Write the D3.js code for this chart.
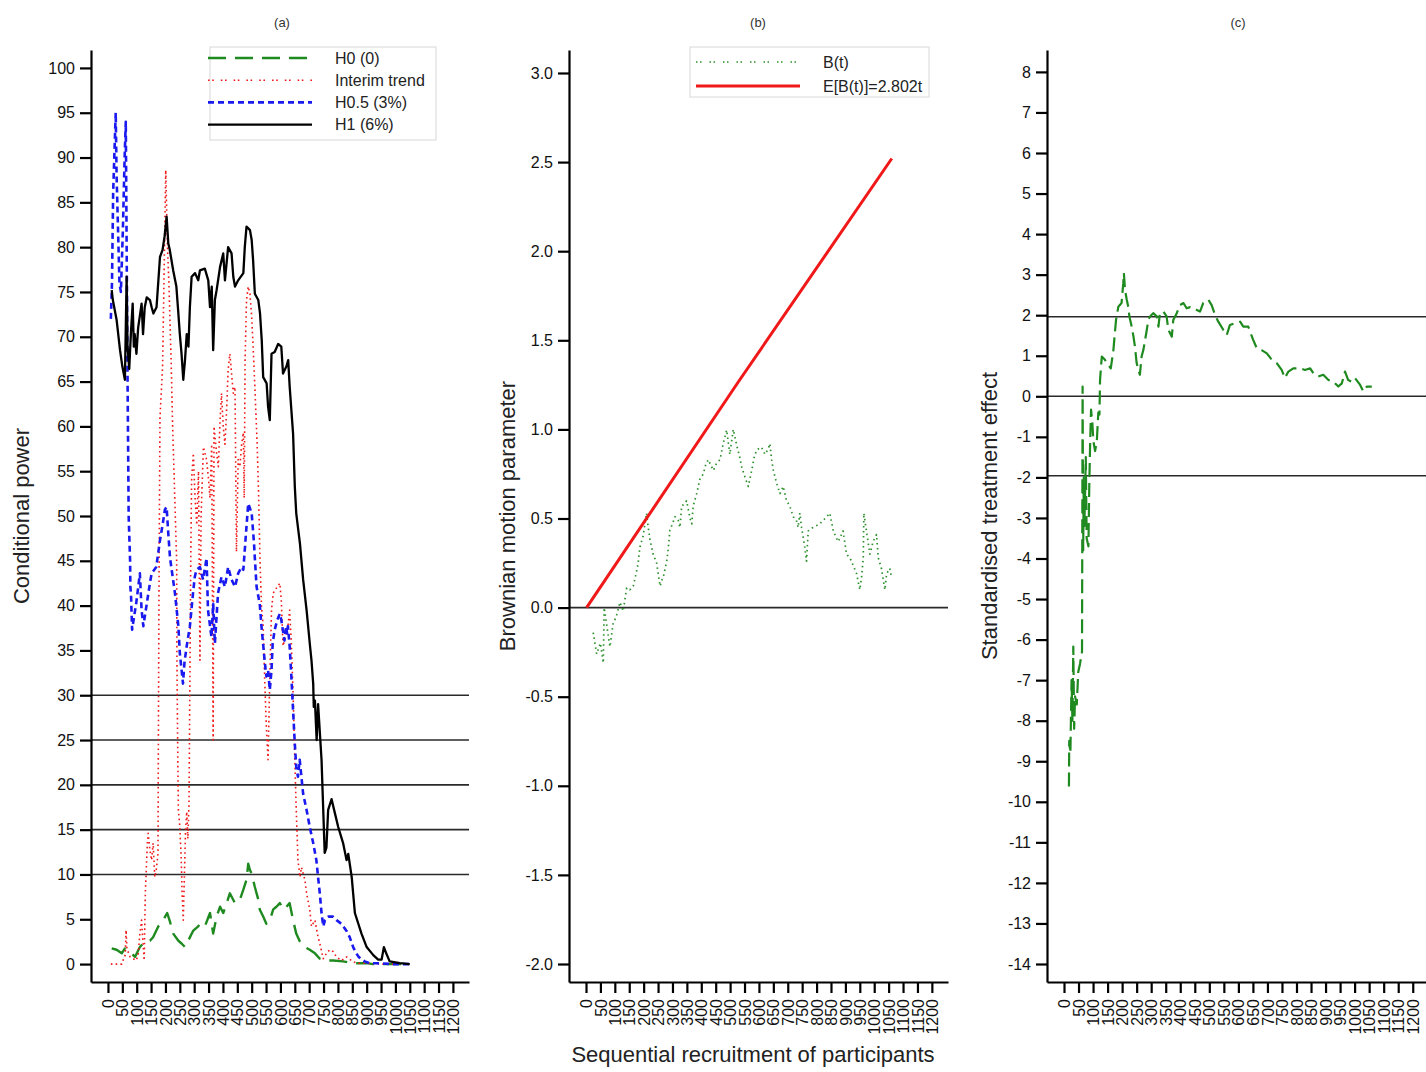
<!DOCTYPE html>
<html>
<head>
<meta charset="utf-8">
<script src="https://cdn.jsdelivr.net/npm/d3@7"></script>
<style>
  html, body { margin: 0; padding: 0; background: #fff; }
  svg { display: block; font-family: "Liberation Sans", Arial, sans-serif; }
</style>
</head>
<body>
<svg id="chart" width="1426" height="1072"></svg>
<script>
// ---- data: participants recruited (n) and monitored quantity ----
const recruitTicks = [0,50,100,150,200,250,300,350,400,450,500,550,600,650,700,750,800,850,900,950,1000,1050,1100,1150,1200];
const powerTicks = [0,5,10,15,20,25,30,35,40,45,50,55,60,65,70,75,80,85,90,95,100];
const brownTicks = [-2.0,-1.5,-1.0,-0.5,0.0,0.5,1.0,1.5,2.0,2.5,3.0];
const zTicks = [-14,-13,-12,-11,-10,-9,-8,-7,-6,-5,-4,-3,-2,-1,0,1,2,3,4,5,6,7,8];
const powerRefLines = [10,15,20,25,30];
const brownRefLines = [0];
const zRefLines = [-1.96,0,1.96];

// (a) conditional power (%)
const cpH0 = [[13,1.75],[30,1.6],[48,1.2],[59,1.75],[70,1.4],[82,1.2],[94,0.8],[111,1.9],[128,2.5],[146,2.6],[157,3.0],[175,4.2],[192,4.9],[206,5.7],[216,4.7],[227,3.4],[245,2.6],[256,2.3],[268,1.9],[279,2.6],[296,3.7],[314,4.2],[320,4.5],[337,4.2],[355,5.7],[366,3.4],[378,5.3],[390,6.4],[401,5.7],[413,6.8],[424,7.9],[442,6.8],[459,7.2],[471,8.3],[482,9.4],[488,11.2],[494,10.5],[500,10.1],[511,8.6],[523,7.2],[528,6.1],[540,5.3],[551,4.5],[563,4.9],[575,6.1],[586,6.4],[598,6.8],[609,6.1],[621,6.4],[632,6.8],[644,4.9],[655,3.4],[668,2.5],[685,1.9],[702,1.6],[720,1.2],[737,0.6],[760,0.4],[783,0.4],[818,0.3],[853,0.1],[900,0.1],[922,0],[992,0],[1050,0]];

const cpInterim = [[10,0],[30,0],[48,0],[51,0.3],[60,1],[63,3.8],[66,1.7],[77,0.8],[98,0.4],[105,1.0],[111,3.4],[117,4.9],[122,2.3],[126,0.4],[130,7.9],[137,13.5],[140,14.6],[146,12.7],[152,11.6],[157,13.5],[163,9.7],[168,10.5],[174,12.3],[176,30],[178,45],[181,61],[190,66.6],[196,78.6],[201,88.6],[207,80],[212,76],[220,67],[225,60],[232,52.5],[239,45],[240,34],[241,30],[243,22.8],[245,17.2],[250,15.3],[255,11.6],[258,7.9],[262,4.9],[266,10],[270,15],[274,17],[278,14],[282,18],[285,31.7],[288,45],[291,54],[297,57],[303,52],[309,49],[315,55],[320,33.9],[324,50],[332,57.7],[343,56.3],[349,54.4],[355,52],[361,58],[366,25],[369,60],[378,57],[384,55.5],[390,60.7],[395,63.7],[401,60],[407,58],[413,62],[418,66.3],[424,68.1],[430,65.9],[436,63.7],[442,64.4],[447,46],[453,56.3],[459,55.5],[465,58],[471,59.3],[474,52],[477,67.4],[482,74.1],[488,75.6],[494,74.8],[500,72.2],[505,68.9],[511,64.4],[519,58],[524,52.5],[529,45],[534,40],[540,37.7],[545,32],[551,26.5],[557,22.8],[563,32],[569,39.5],[575,41.4],[589,42.1],[598,42.5],[603,40.6],[609,35.5],[614,36.1],[626,37.7],[632,39.5],[638,35.8],[644,30.2],[650,22.8],[655,17.2],[661,11.6],[668,9.7],[673,10.8],[685,9.4],[691,7.9],[702,6.1],[708,4.2],[720,4.9],[731,3],[737,2.3],[749,0.6],[760,1.2],[772,1.6],[783,1.4],[795,0.8],[812,0.4],[830,0.8],[847,0.4],[864,0.1],[900,0.1],[950,0],[1000,0]];

const cpH05 = [[10,72],[14,76],[18,86],[22,90],[27,95],[30,88],[35,82],[40,76],[45,75],[52,82],[58,90],[62,94],[65,80],[68,66],[72,50],[77,45],[78,42],[80,41.4],[84,37.3],[92,39],[98,40.2],[105,42],[111,43.6],[117,39.5],[123,37.7],[135,40.2],[146,42.5],[152,43.6],[168,44.3],[181,47.3],[190,49],[198,50.7],[204,51],[210,48],[216,45.3],[233,41.4],[245,37.7],[250,34.7],[261,31.3],[266,33.6],[274,35.5],[285,37.7],[296,41.4],[302,43.2],[308,44],[320,44.3],[331,42.9],[343,45.3],[348,39.5],[360,36.5],[366,40.2],[372,35.8],[383,41.4],[395,43.2],[407,42.1],[418,44.3],[430,42.9],[442,42.1],[453,43.6],[465,44.3],[471,44],[480,48],[488,51.4],[500,50.3],[508,47],[511,45.3],[517,42.1],[528,40.2],[534,37.7],[545,33.9],[551,32.1],[557,32.8],[563,30.6],[569,32.8],[573,35.8],[580,37.3],[589,38.4],[598,39.1],[603,38.4],[614,36.1],[620,37.7],[623,36.9],[626,37.7],[632,35.5],[638,32.1],[644,28.3],[650,24.6],[655,22],[661,20.9],[667,22.8],[673,20.9],[679,19],[691,17.2],[702,15.3],[714,13.5],[725,11.6],[731,9.7],[737,7.9],[743,5.7],[749,4.2],[755,4.9],[766,5.3],[783,5.3],[795,4.9],[812,4.5],[830,3.7],[841,3.0],[853,1.9],[864,1.2],[872,0.8],[893,0.3],[910,0.1],[933,0.1],[992,0],[1050,0]];

const cpH1 = [[13,75.2],[17,74.1],[30,71.9],[42,68.5],[50,66.7],[59,65.2],[65,76.7],[68,69],[74,66.4],[80,70.5],[86,73.7],[90,68.9],[93,70.3],[99,68.1],[105,71],[117,73.7],[122,70.3],[128,73.3],[135,74.4],[146,74.1],[152,73.3],[158,72.6],[169,73.3],[181,78.9],[190,79.7],[197,81.2],[204,83.4],[210,80.4],[215,79.7],[227,77.4],[238,75.6],[244,73],[250,70.3],[256,68.1],[262,65.2],[268,67.4],[274,70.3],[280,68.9],[285,73.3],[291,76.7],[303,77.1],[314,76.3],[320,77.4],[337,77.6],[349,76.3],[355,73.3],[361,75.6],[366,68.5],[372,74.1],[378,75.2],[390,77.8],[401,79.3],[407,76.3],[418,80],[430,79.3],[436,76.7],[442,75.6],[453,76.3],[471,77.1],[476,80],[482,82.3],[494,81.9],[500,80.8],[505,78.5],[511,74.8],[523,74.1],[529,72.6],[535,69.6],[540,65.5],[552,64.8],[557,62.2],[563,60.7],[569,68.1],[580,68.3],[592,69.2],[603,68.9],[609,65.9],[621,66.7],[627,67.4],[632,64.5],[644,59.2],[650,53.3],[655,50.3],[668,46.9],[679,42.9],[691,39.5],[702,35.8],[708,33.9],[714,31.3],[716,28.7],[720,29.4],[726,25],[731,29],[743,22.8],[747,19],[754,12.4],[760,13],[766,17.2],[778,18.4],[789,16.9],[801,15.3],[818,13.5],[830,11.6],[836,12.3],[848,9.7],[859,5.7],[871,4.5],[882,3.4],[900,1.9],[923,1.0],[940,0.5],[952,0.5],[960,1.9],[968,1.2],[980,0.3],[1016,0.1],[1050,0]];

// (b) Brownian motion parameter B(t) and its expected drift
const brownB = [[25,-0.14],[37,-0.26],[50,-0.2],[60,-0.31],[63,0.0],[72,-0.1],[83,-0.22],[94,-0.09],[105,-0.05],[118,0.03],[129,-0.02],[141,0.11],[152,0.1],[164,0.12],[175,0.2],[181,0.25],[187,0.34],[198,0.4],[210,0.53],[216,0.45],[222,0.38],[233,0.3],[245,0.25],[257,0.12],[262,0.15],[268,0.17],[280,0.26],[286,0.34],[291,0.435],[300,0.47],[309,0.51],[320,0.49],[326,0.45],[332,0.57],[340,0.58],[349,0.6],[355,0.55],[361,0.5],[367,0.47],[372,0.57],[384,0.64],[395,0.72],[407,0.75],[415,0.8],[424,0.83],[436,0.79],[442,0.77],[453,0.81],[465,0.83],[476,0.92],[488,0.997],[499,0.86],[511,1.0],[523,0.91],[534,0.84],[540,0.79],[552,0.73],[563,0.68],[575,0.77],[583,0.84],[592,0.885],[609,0.9],[621,0.86],[632,0.89],[638,0.92],[644,0.83],[650,0.77],[661,0.7],[673,0.64],[684,0.68],[696,0.6],[707,0.57],[719,0.51],[730,0.49],[736,0.45],[742,0.53],[748,0.45],[759,0.34],[765,0.26],[771,0.43],[788,0.45],[800,0.46],[811,0.47],[823,0.49],[835,0.51],[846,0.53],[858,0.43],[875,0.37],[892,0.43],[904,0.3],[915,0.28],[921,0.26],[939,0.19],[950,0.1],[956,0.17],[962,0.28],[964,0.53],[973,0.43],[985,0.3],[996,0.37],[1008,0.41],[1014,0.28],[1025,0.22],[1037,0.1],[1043,0.19],[1054,0.22],[1060,0.17]];
const brownDrift = [[2,0],[530,1.27],[1061,2.52]];

// (c) standardised treatment effect
const zEffect = [[17,-9.62],[18,-8.5],[22,-8.8],[26,-7.0],[29,-8.0],[32,-6.17],[35,-8.2],[38,-7.4],[44,-7.6],[49,-6.8],[55,-6.6],[62,-6.3],[64,0.24],[66,-3.8],[68,-2.0],[70,-3.2],[72,-2.6],[75,-1.5],[78,-3.5],[84,-3.7],[87,-2.2],[90,-1.15],[93,-0.33],[97,-0.6],[101,-1.1],[107,-1.35],[113,-1.1],[118,-0.4],[122,-0.45],[124,0.4],[130,0.98],[141,0.9],[153,0.77],[161,0.69],[170,1.14],[175,1.56],[179,1.88],[187,2.21],[198,2.3],[204,2.79],[206,3.04],[210,2.62],[216,2.38],[221,2.21],[225,1.97],[233,1.72],[239,1.47],[244,1.23],[250,0.82],[256,0.65],[261,0.53],[267,0.98],[273,1.14],[279,1.39],[285,1.64],[290,1.88],[296,1.97],[307,2.05],[319,1.97],[325,1.72],[330,2.05],[342,2.09],[353,1.97],[359,1.64],[371,1.47],[376,1.88],[388,2.05],[399,2.25],[411,2.3],[422,2.17],[434,2.2],[445,2.17],[457,2.13],[468,2.09],[479,2.3],[497,2.38],[508,2.25],[520,2.0],[531,1.84],[548,1.64],[560,1.51],[571,1.76],[588,1.8],[606,1.84],[617,1.72],[634,1.72],[640,1.6],[651,1.39],[663,1.19],[680,1.14],[698,1.06],[715,0.9],[732,0.82],[749,0.65],[760,0.45],[772,0.61],[789,0.69],[812,0.69],[829,0.65],[847,0.69],[858,0.57],[875,0.49],[892,0.53],[910,0.4],[927,0.36],[944,0.24],[956,0.32],[967,0.61],[978,0.4],[990,0.36],[1001,0.45],[1019,0.28],[1030,0.12],[1042,0.24],[1059,0.24]];

// ---- drawing ----
const svg = d3.select("#chart");
const GREEN = "#1f8a1f", RED = "#f01818", BLUE = "#1a1af0", BLACK = "#000";

function panel(cfg) {
  const g = svg.append("g");
  const x = d3.scaleLinear().domain(cfg.xDomain).range([cfg.left, cfg.right]);
  const y = d3.scaleLinear().domain(cfg.yDomain).range([982, 50]);

  // reference lines
  g.selectAll("line.ref").data(cfg.refs).join("line")
    .attr("class", "ref")
    .attr("x1", cfg.left).attr("x2", cfg.right)
    .attr("y1", d => y(d)).attr("y2", d => y(d))
    .attr("stroke", "#2a2a2a").attr("stroke-width", 1.6);

  // y axis
  const ya = g.append("g").attr("transform", `translate(${cfg.left},0)`)
    .call(d3.axisLeft(y).tickValues(cfg.yTicks).tickFormat(cfg.yFormat)
      .tickSize(11).tickPadding(5).tickSizeOuter(0));
  // x axis
  const xa = g.append("g").attr("transform", `translate(0,982)`)
    .call(d3.axisBottom(x).tickValues(recruitTicks).tickFormat(d => String(d))
      .tickSize(11).tickSizeOuter(0));
  xa.selectAll(".tick text")
    .attr("transform", "rotate(-90)")
    .attr("x", -17).attr("y", 0).attr("dy", "0.35em")
    .style("text-anchor", "end");
  [ya, xa].forEach(a => {
    a.select(".domain").attr("stroke", BLACK).attr("stroke-width", 2.2);
    a.selectAll(".tick line").attr("stroke", BLACK).attr("stroke-width", 2.2);
    a.selectAll(".tick text").attr("fill", "#111").style("font-size", "16px")
      .style("font-family", '"Liberation Sans", Arial, sans-serif');
  });

  // series
  const line = d3.line().x(d => x(d[0])).y(d => y(d[1]));
  cfg.series.forEach(s => {
    g.append("path").datum(s.data).attr("d", line)
      .attr("fill", "none").attr("stroke", s.color)
      .attr("stroke-width", s.width)
      .attr("stroke-dasharray", s.dash || null)
      .attr("stroke-linejoin", "round");
  });

  // panel label
  svg.append("text").attr("x", cfg.labelX).attr("y", 27)
    .attr("text-anchor", "middle").style("font-size", "13px").attr("fill", "#333")
    .text(cfg.label);

  // y title
  svg.append("text")
    .attr("transform", `translate(${cfg.titleX},516) rotate(-90)`)
    .attr("text-anchor", "middle").style("font-size", "22px").attr("fill", "#222")
    .text(cfg.yTitle);

  // legend
  if (cfg.legend) {
    const L = cfg.legend;
    svg.append("rect").attr("x", L.x).attr("y", L.y).attr("width", L.w).attr("height", L.h)
      .attr("fill", "#fff").attr("stroke", "#d8d8d8").attr("stroke-width", 1);
    L.items.forEach((it, i) => {
      const yy = L.y + L.first + i * L.step;
      svg.append("line").attr("x1", L.lx0).attr("x2", L.lx1).attr("y1", yy).attr("y2", yy)
        .attr("stroke", it.color).attr("stroke-width", it.width)
        .attr("stroke-dasharray", it.legendDash || it.dash || null);
      svg.append("text").attr("x", L.tx).attr("y", yy).attr("dy", "0.35em")
        .style("font-size", "16px").attr("fill", "#222").text(it.name);
    });
  }
}

const fmt1 = d => d.toFixed(1);
const fmtInt = d => String(d);

const sH0 = {name: "H0 (0)", data: cpH0, color: GREEN, width: 2.4, dash: "18,9"};
const sInt = {name: "Interim trend", data: cpInterim, color: RED, width: 1.6, dash: "1.6,3.2",
  legendDash: "1.6,2.6,1.6,7"};
const sH05 = {name: "H0.5 (3%)", data: cpH05, color: BLUE, width: 2.6, dash: "6,4"};
const sH1 = {name: "H1 (6%)", data: cpH1, color: BLACK, width: 2.3};

panel({
  left: 91, right: 469, xDomain: [-59, 1256], yDomain: [-2, 102],
  yTicks: powerTicks, yFormat: fmtInt, refs: powerRefLines,
  series: [sH0, sInt, sH05, sH1],
  label: "(a)", labelX: 282, yTitle: "Conditional power", titleX: 29,
  legend: {x: 210, y: 47, w: 226, h: 93, first: 11, step: 22.2, lx0: 208, lx1: 312, tx: 335,
    items: [sH0, sInt, sH05, sH1]}
});

const sB = {name: "B(t)", data: brownB, color: "#2a8f2a", width: 1.7, dash: "1.5,3.5",
  legendDash: "1.5,2.5,1.5,8"};
const sE = {name: "E[B(t)]=2.802t", data: brownDrift, color: RED, width: 3};
panel({
  left: 569, right: 948, xDomain: [-59, 1256], yDomain: [-2.101, 3.129],
  yTicks: brownTicks, yFormat: fmt1, refs: brownRefLines,
  series: [sB, sE],
  label: "(b)", labelX: 758, yTitle: "Brownian motion parameter", titleX: 515,
  legend: {x: 690, y: 47, w: 239, h: 50, first: 15, step: 24, lx0: 696, lx1: 800, tx: 823,
    items: [sB, sE]}
});

panel({
  left: 1047, right: 1426, xDomain: [-58.5, 1245.6], yDomain: [-14.444, 8.54],
  yTicks: zTicks, yFormat: fmtInt, refs: zRefLines,
  series: [{data: zEffect, color: GREEN, width: 2.2, dash: "14,6"}],
  label: "(c)", labelX: 1238, yTitle: "Standardised treatment effect", titleX: 997
});

// shared x title
svg.append("text").attr("x", 753).attr("y", 1062).attr("text-anchor", "middle")
  .style("font-size", "22px").attr("fill", "#222")
  .text("Sequential recruitment of participants");
</script>
</body>
</html>
